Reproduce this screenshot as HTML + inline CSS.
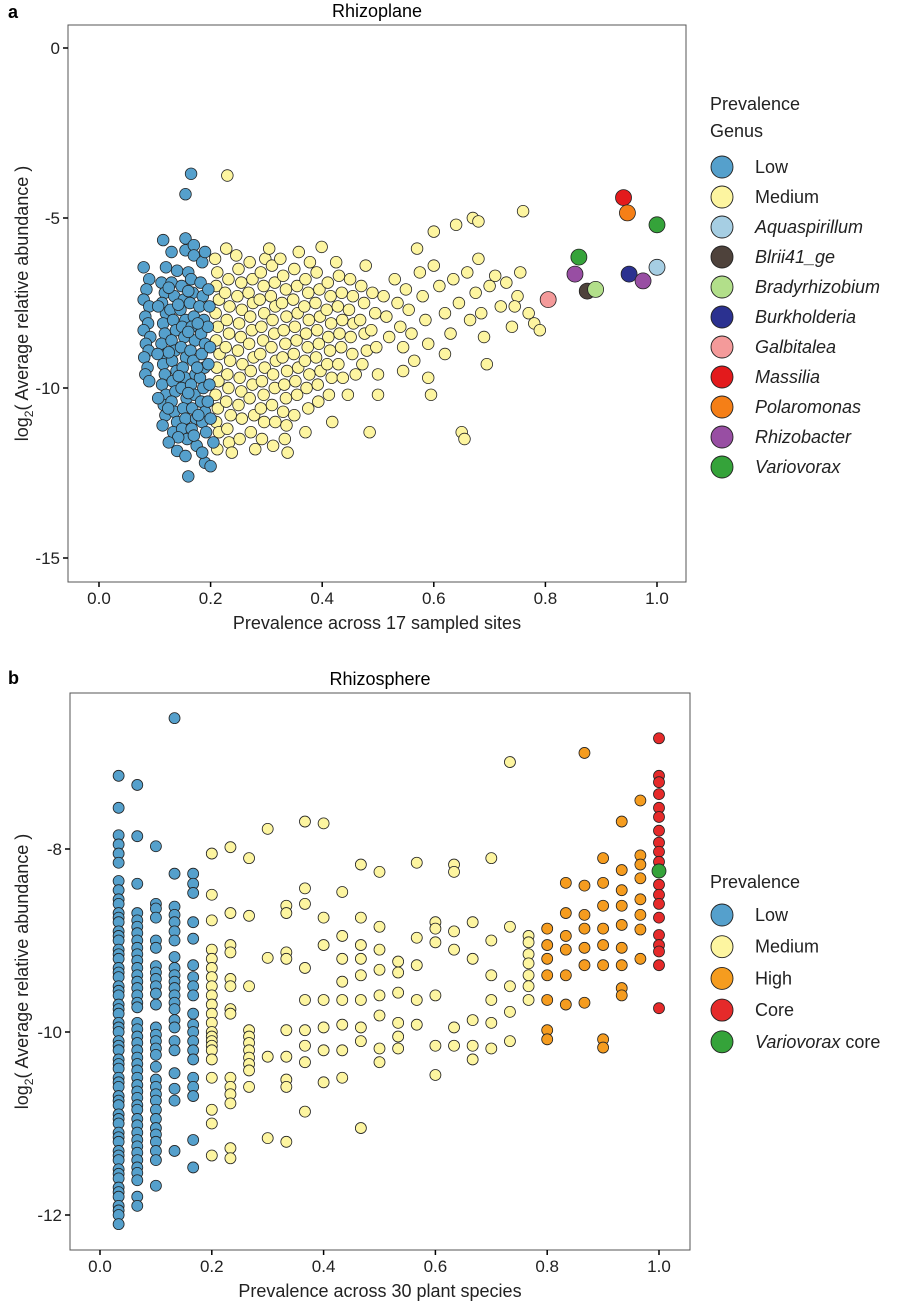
<!DOCTYPE html>
<html><head><meta charset="utf-8">
<style>
body{margin:0;background:#fff;}
svg{display:block;font-family:"Liberation Sans",Arial,sans-serif;}
</style></head>
<body>
<svg id="fig" width="905" height="1310" viewBox="0 0 905 1310"></svg>
<script>
// ---------- Panel a data (Rhizoplane) ----------
const lowA = [[0.165,-3.7],[0.155,-4.3],[0.115,-5.65],[0.155,-5.6],[0.13,-6.0],[0.155,-5.95],[0.17,-5.8],[0.17,-6.1],[0.08,-6.45],[0.12,-6.45],[0.09,-6.8],[0.14,-6.55],[0.16,-6.6],[0.185,-6.3],[0.19,-6.0],
[0.085,-7.1],[0.08,-7.4],[0.09,-7.6],[0.083,-7.9],[0.088,-8.1],[0.08,-8.3],[0.092,-8.5],[0.084,-8.7],[0.089,-8.9],[0.081,-9.1],[0.087,-9.4],[0.083,-9.6],[0.09,-9.8],
[0.112,-6.9],[0.118,-7.2],[0.113,-7.5],[0.12,-7.8],[0.115,-8.1],[0.118,-8.4],[0.112,-8.7],[0.12,-9.0],[0.115,-9.3],[0.118,-9.6],[0.113,-9.9],[0.12,-10.2],[0.116,-10.5],[0.119,-10.8],[0.114,-11.1],
[0.13,-6.9],[0.135,-7.3],[0.128,-7.7],[0.133,-8.0],[0.138,-8.3],[0.13,-8.6],[0.136,-8.9],[0.131,-9.2],[0.139,-9.5],[0.132,-9.8],[0.137,-10.1],[0.13,-10.4],[0.135,-10.7],[0.14,-11.0],[0.133,-11.3],
[0.148,-7.0],[0.152,-7.4],[0.146,-7.7],[0.155,-8.0],[0.149,-8.2],[0.153,-8.5],[0.147,-8.8],[0.156,-9.1],[0.15,-9.4],[0.154,-9.7],[0.148,-10.0],[0.157,-10.3],[0.151,-10.6],[0.155,-10.9],[0.149,-11.2],[0.158,-11.5],
[0.165,-6.8],[0.168,-7.2],[0.163,-7.5],[0.17,-7.9],[0.166,-8.2],[0.172,-8.6],[0.164,-8.9],[0.169,-9.2],[0.173,-9.6],[0.165,-9.9],[0.171,-10.2],[0.167,-10.6],[0.174,-10.9],[0.166,-11.2],
[0.182,-6.9],[0.186,-7.3],[0.18,-7.6],[0.188,-8.0],[0.183,-8.4],[0.19,-8.7],[0.184,-9.0],[0.189,-9.4],[0.181,-9.7],[0.187,-10.0],[0.183,-10.4],[0.19,-10.7],[0.185,-11.0],[0.192,-11.3],
[0.196,-7.1],[0.198,-7.6],[0.195,-8.2],[0.199,-8.8],[0.196,-9.3],[0.198,-9.9],[0.195,-10.4],[0.2,-10.9],
[0.125,-7.05],[0.142,-7.55],[0.16,-8.35],[0.125,-8.95],[0.143,-9.65],[0.16,-10.15],[0.124,-10.6],[0.142,-11.45],[0.177,-8.1],[0.176,-9.4],[0.178,-10.8],[0.16,-7.15],[0.106,-7.6],[0.105,-9.0],[0.106,-10.3],
[0.125,-11.6],[0.14,-11.85],[0.155,-12.0],[0.16,-12.6],[0.175,-11.7],[0.19,-12.2],[0.2,-12.3],[0.185,-11.9],[0.17,-11.4],[0.205,-11.6]];

const medA = [[0.208,-6.2],[0.212,-6.6],[0.21,-7.0],[0.215,-7.4],[0.209,-7.8],[0.213,-8.2],[0.21,-8.6],[0.216,-9.0],[0.211,-9.4],[0.214,-9.8],[0.209,-10.2],[0.213,-10.6],[0.21,-11.0],[0.215,-11.3],[0.212,-11.8],
[0.228,-5.9],[0.23,-3.75],[0.232,-6.8],[0.226,-7.2],[0.234,-7.6],[0.229,-8.0],[0.233,-8.4],[0.227,-8.8],[0.235,-9.2],[0.23,-9.6],[0.232,-10.0],[0.228,-10.4],[0.236,-10.8],[0.23,-11.2],[0.233,-11.6],[0.238,-11.9],
[0.25,-6.5],[0.255,-6.9],[0.248,-7.3],[0.256,-7.7],[0.251,-8.1],[0.254,-8.5],[0.249,-8.9],[0.257,-9.3],[0.252,-9.7],[0.255,-10.1],[0.25,-10.5],[0.256,-10.9],[0.252,-11.5],[0.246,-6.1],
[0.27,-6.3],[0.275,-6.8],[0.268,-7.2],[0.276,-7.5],[0.271,-7.9],[0.274,-8.3],[0.269,-8.7],[0.277,-9.1],[0.272,-9.5],[0.275,-9.9],[0.27,-10.3],[0.278,-10.8],[0.272,-11.3],[0.28,-11.8],
[0.29,-6.6],[0.295,-7.0],[0.288,-7.4],[0.296,-7.8],[0.291,-8.2],[0.294,-8.6],[0.289,-9.0],[0.297,-9.4],[0.292,-9.8],[0.295,-10.2],[0.29,-10.6],[0.296,-11.0],[0.292,-11.5],[0.298,-6.2],
[0.31,-6.4],[0.315,-6.9],[0.308,-7.3],[0.316,-7.6],[0.311,-8.0],[0.314,-8.4],[0.309,-8.8],[0.317,-9.2],[0.312,-9.6],[0.315,-10.0],[0.31,-10.5],[0.316,-11.0],[0.312,-11.7],[0.305,-5.9],
[0.33,-6.7],[0.335,-7.1],[0.328,-7.5],[0.336,-7.9],[0.331,-8.3],[0.334,-8.7],[0.329,-9.1],[0.337,-9.5],[0.332,-9.9],[0.335,-10.3],[0.33,-10.7],[0.336,-11.1],[0.333,-11.5],[0.338,-11.9],[0.325,-6.2],
[0.35,-6.5],[0.355,-7.0],[0.348,-7.4],[0.356,-7.8],[0.351,-8.2],[0.354,-8.6],[0.349,-9.0],[0.357,-9.4],[0.352,-9.8],[0.355,-10.2],[0.35,-10.8],[0.358,-6.0],
[0.37,-6.8],[0.375,-7.2],[0.368,-7.6],[0.376,-8.0],[0.371,-8.4],[0.374,-8.8],[0.369,-9.2],[0.377,-9.6],[0.372,-10.0],[0.375,-10.6],[0.378,-6.3],[0.37,-11.3],
[0.39,-6.6],[0.395,-7.1],[0.388,-7.5],[0.396,-7.9],[0.391,-8.3],[0.394,-8.7],[0.389,-9.1],[0.397,-9.5],[0.392,-9.9],[0.393,-10.4],[0.399,-5.85],
[0.41,-6.9],[0.415,-7.3],[0.408,-7.7],[0.416,-8.1],[0.411,-8.5],[0.414,-8.9],[0.409,-9.3],[0.417,-9.7],[0.412,-10.2],[0.418,-11.0],
[0.43,-6.7],[0.435,-7.2],[0.428,-7.6],[0.436,-8.0],[0.431,-8.4],[0.434,-8.8],[0.429,-9.3],[0.437,-9.7],[0.425,-6.3],
[0.45,-6.8],[0.455,-7.3],[0.448,-7.7],[0.456,-8.1],[0.451,-8.5],[0.454,-9.0],[0.46,-9.6],[0.446,-10.2],
[0.47,-7.0],[0.475,-7.5],[0.468,-8.0],[0.476,-8.4],[0.48,-8.9],[0.472,-9.3],[0.49,-7.2],[0.495,-7.8],[0.488,-8.3],[0.497,-8.8],[0.5,-9.6],[0.5,-10.2],[0.485,-11.3],[0.478,-6.4],
[0.51,-7.3],[0.515,-7.9],[0.52,-8.5],[0.53,-6.8],[0.535,-7.5],[0.54,-8.2],[0.545,-8.8],[0.55,-7.1],[0.555,-7.7],[0.56,-8.4],[0.565,-9.2],[0.57,-5.9],[0.575,-6.6],[0.58,-7.3],[0.585,-8.0],[0.59,-9.7],[0.595,-10.2],[0.6,-6.4],[0.6,-5.4],[0.59,-8.7],[0.545,-9.5],
[0.61,-7.0],[0.62,-7.8],[0.63,-8.4],[0.635,-6.8],[0.64,-5.2],[0.645,-7.5],[0.65,-11.3],[0.655,-11.5],[0.66,-6.6],[0.665,-8.0],[0.67,-5.0],[0.675,-7.2],[0.68,-6.2],[0.685,-7.8],[0.69,-8.5],[0.695,-9.3],[0.7,-7.0],[0.68,-5.1],[0.62,-9.0],
[0.71,-6.7],[0.72,-7.6],[0.73,-6.9],[0.74,-8.2],[0.75,-7.3],[0.755,-6.6],[0.76,-4.8],[0.77,-7.8],[0.78,-8.1],[0.79,-8.3],[0.745,-7.6]];

const genusNames = ["Massilia","Polaromonas","Variovorax","Variovorax","Aquaspirillum","Burkholderia","Rhizobacter","Rhizobacter","Blrii41_ge","Bradyrhizobium","Galbitalea"];
const genusX = [0.94,0.947,1.0,0.86,1.0,0.95,0.853,0.975,0.875,0.89,0.805];
const genusY = [-4.4,-4.85,-5.2,-6.15,-6.45,-6.65,-6.65,-6.85,-7.15,-7.1,-7.4];
const xTicksA = [0,0.2,0.4,0.6,0.8,1.0];
const yTicksA = [0,-5,-10,-15];

// ---------- Panel b data (Rhizosphere) ----------
const colIndex = [1,2,3,4,5,6,7,8,9,10,11,12,13,14,15,16,17,18,19,20,21,22,23,24,25,26,27,28,29,30];
const colValues = [
[-7.2,-7.55,-7.85,-7.95,-8.05,-8.15,-8.35,-8.45,-8.55,-8.6,-8.7,-8.75,-8.8,-8.9,-8.95,-9.0,-9.1,-9.15,-9.2,-9.3,-9.35,-9.4,-9.5,-9.55,-9.6,-9.7,-9.75,-9.8,-9.9,-9.95,-10.0,-10.1,-10.15,-10.2,-10.3,-10.35,-10.4,-10.5,-10.55,-10.6,-10.7,-10.75,-10.8,-10.9,-10.95,-11.0,-11.1,-11.15,-11.2,-11.3,-11.35,-11.4,-11.5,-11.55,-11.6,-11.7,-11.75,-11.8,-11.9,-11.95,-12.0,-12.1],
[-7.3,-7.86,-8.38,-8.7,-8.78,-8.85,-8.92,-9.0,-9.08,-9.15,-9.22,-9.3,-9.38,-9.45,-9.52,-9.6,-9.68,-9.73,-9.9,-9.97,-10.05,-10.12,-10.2,-10.28,-10.35,-10.42,-10.5,-10.58,-10.65,-10.72,-10.8,-10.85,-10.95,-11.02,-11.1,-11.18,-11.25,-11.32,-11.4,-11.48,-11.54,-11.62,-11.8,-11.9],
[-7.97,-8.6,-8.65,-8.75,-9.0,-9.08,-9.28,-9.35,-9.42,-9.5,-9.58,-9.7,-9.95,-10.03,-10.1,-10.18,-10.25,-10.38,-10.52,-10.6,-10.68,-10.75,-10.85,-10.95,-11.05,-11.12,-11.2,-11.3,-11.4,-11.68],
[-6.57,-8.27,-8.63,-8.72,-8.8,-8.9,-9.0,-9.18,-9.3,-9.38,-9.45,-9.52,-9.6,-9.68,-9.75,-9.87,-9.95,-10.1,-10.2,-10.45,-10.62,-10.75,-11.3],
[-8.27,-8.38,-8.48,-8.8,-8.98,-9.27,-9.4,-9.5,-9.6,-9.8,-9.92,-10.0,-10.1,-10.2,-10.3,-10.5,-10.6,-10.7,-11.18,-11.48],
[-8.05,-8.5,-8.78,-9.1,-9.2,-9.3,-9.4,-9.5,-9.6,-9.7,-9.8,-9.9,-10.0,-10.05,-10.1,-10.15,-10.2,-10.3,-10.5,-10.85,-11.35,-11.0],
[-7.98,-8.7,-9.05,-9.13,-9.42,-9.5,-9.75,-9.8,-10.5,-10.6,-10.68,-10.78,-11.27,-11.38],
[-8.1,-8.73,-9.5,-9.98,-10.05,-10.12,-10.2,-10.28,-10.35,-10.42,-10.6],
[-7.78,-9.19,-10.27,-11.16],
[-8.62,-8.7,-9.13,-9.2,-9.98,-10.27,-10.52,-10.6,-11.2],
[-7.7,-8.43,-8.6,-9.3,-9.65,-9.98,-10.15,-10.33,-10.87],
[-7.72,-8.75,-9.05,-9.65,-9.95,-10.2,-10.55],
[-8.47,-8.95,-9.2,-9.45,-9.65,-9.92,-10.2,-10.5],
[-8.17,-8.75,-9.05,-9.2,-9.38,-9.65,-9.95,-10.1,-11.05],
[-8.25,-8.85,-9.1,-9.32,-9.6,-9.82,-10.18,-10.33],
[-9.23,-9.35,-9.57,-9.9,-10.05,-10.18],
[-8.15,-8.97,-9.27,-9.65,-9.92],
[-8.8,-8.87,-9.02,-9.6,-10.15,-10.47],
[-8.17,-8.25,-8.9,-9.1,-9.95,-10.15],
[-8.8,-9.2,-9.87,-10.15,-10.3],
[-8.1,-9.0,-9.38,-9.65,-9.9,-10.18],
[-7.05,-8.85,-9.5,-9.78,-10.1],
[-8.95,-9.02,-9.15,-9.25,-9.38,-9.5,-9.65],
[-8.87,-9.05,-9.2,-9.38,-9.65,-9.98,-10.08],
[-8.37,-8.7,-8.95,-9.1,-9.38,-9.7],
[-6.95,-8.4,-8.72,-8.87,-9.08,-9.27,-9.68],
[-8.1,-8.37,-8.62,-8.87,-9.05,-9.27,-10.08,-10.17],
[-7.7,-8.23,-8.45,-8.62,-8.83,-9.08,-9.27,-9.52,-9.6],
[-7.47,-8.07,-8.17,-8.32,-8.55,-8.72,-8.88,-9.2],
[-6.79,-7.2,-7.27,-7.4,-7.55,-7.65,-7.8,-7.93,-8.03,-8.14,-8.25,-8.39,-8.5,-8.6,-8.75,-8.94,-9.05,-9.12,-9.27,-9.74]];
const colClass = ["Low","Low","Low","Low","Low","Medium","Medium","Medium","Medium","Medium","Medium","Medium","Medium","Medium","Medium","Medium","Medium","Medium","Medium","Medium","Medium","Medium","Medium","High","High","High","High","High","High","Core"];
const varioCoreX = [1.0];
const varioCoreY = [-8.24];
const xTicksB = [0,0.2,0.4,0.6,0.8,1.0];
const yTicksB = [-8,-10,-12];

// ---------- drawing ----------
const NS = "http://www.w3.org/2000/svg";
const svg = document.getElementById("fig");
const COL = {Low:"#55a0cc",Medium:"#fdf5a0",High:"#f59c1f",Core:"#e52a2a",Variovorax:"#35a33a",
  Massilia:"#e31a1c",Polaromonas:"#f57f17",Aquaspirillum:"#a6cee3",Burkholderia:"#2b3190",Rhizobacter:"#984ea3","Blrii41_ge":"#4e423b",Bradyrhizobium:"#b2df8a",Galbitalea:"#f49a9a"};
function mk(tag, attrs, parent){const e=document.createElementNS(NS,tag);for(const k in attrs)e.setAttribute(k,attrs[k]);(parent||svg).appendChild(e);return e;}

// axis functions
const xa = v => 99 + v*558;
const ya = v => 48 - v*34;
const xb = v => 100 + v*559;
const yb = v => 849 + (-8 - v)*91.5;

function panel(name, box, xt, yt, xf, yf, title, xlabel, letter, letterY){
  const g = mk("g",{});
  
  
  const t = mk("text",{x:8,y:letterY,"font-size":18,"font-weight":"bold"},g); t.textContent=letter;
  
  
  const tt = mk("text",{x:(box[0]+box[2])/2,y:box[1]-8,"font-size":18,"text-anchor":"middle"},g); tt.textContent=title;
  
  
  const r = mk("rect",{x:box[0],y:box[1],width:box[2]-box[0],height:box[3]-box[1],fill:"none",stroke:"#555","stroke-width":1},g);
  
  
  xt.forEach(v=>{
    const x=xf(v);
    const l=mk("line",{x1:x,x2:x,y1:box[3],y2:box[3]+5,stroke:"#000","stroke-width":1.5},g);
    
    
    const s=mk("text",{x:x,y:box[3]+22,"font-size":17,"text-anchor":"middle",fill:"#222"},g); s.textContent=v.toFixed(1);
    
    
  });
  yt.forEach(v=>{
    const y=yf(v);
    const l=mk("line",{x1:box[0]-5,x2:box[0],y1:y,y2:y,stroke:"#000","stroke-width":1.5},g);
    
    
    const s=mk("text",{x:box[0]-8,y:y+6,"font-size":17,"text-anchor":"end",fill:"#222"},g); s.textContent=String(v);
    
    
  });
  const xl=mk("text",{x:(box[0]+box[2])/2,y:box[3]+47,"font-size":18,"text-anchor":"middle",fill:"#222"},g); xl.textContent=xlabel;
  
  
  const cy=(box[1]+box[3])/2;
  const yl=mk("text",{x:0,y:0,"font-size":18,"text-anchor":"middle",fill:"#222",transform:`translate(28,${cy}) rotate(-90)`},g);
  yl.innerHTML='log<tspan font-size="12" dy="5">2</tspan><tspan dy="-5">( Average relative abundance )</tspan>';
  
  
  return g;
}
function dot(g,x,y,r,fill,name){
  const c=mk("circle",{cx:x,cy:y,r:r,fill:fill,stroke:"#222","stroke-width":0.8},g);
  
  
}

// Panel a
const ga = panel("rhizoplane-panel",[68,25,686,582],xTicksA,yTicksA,xa,ya,"Rhizoplane","Prevalence across 17 sampled sites","a",18);
medA.forEach(p=>dot(ga,xa(p[0]),ya(p[1]),5.8,COL.Medium,"point-medium"));
lowA.forEach(p=>dot(ga,xa(p[0]),ya(p[1]),5.8,COL.Low,"point-low"));
genusX.forEach((x,i)=>dot(ga,xa(x),ya(genusY[i]),8,COL[genusNames[i]],"point-"+genusNames[i].toLowerCase()));

// Panel b
const gb = panel("rhizosphere-panel",[70,693,690,1250],xTicksB,yTicksB,xb,yb,"Rhizosphere","Prevalence across 30 plant species","b",684);
colIndex.forEach((k,i)=>{
  colValues[i].forEach(v=>dot(gb,xb(k/30),yb(v),5.5,COL[colClass[i]],"point-"+colClass[i].toLowerCase()));
});
varioCoreX.forEach((x,i)=>dot(gb,xb(x),yb(varioCoreY[i]),7,COL.Variovorax,"point-variovorax-core"));

// Legends
function legend(name,x,titles,titleY,items,startY,step){
  const g=mk("g",{});
  
  
  titles.forEach((t,i)=>{const e=mk("text",{x:x,y:titleY+i*27,"font-size":18,fill:"#222"},g);e.textContent=t;
    
    });
  items.forEach((it,i)=>{
    const y=startY+i*step;
    const c=mk("circle",{cx:x+12,cy:y,r:11,fill:it[1],stroke:"#222","stroke-width":0.9},g);
    
    
    const e=mk("text",{x:x+45,y:y+6,"font-size":18,fill:"#222"},g);
    e.innerHTML=it[0];
    
    
  });
}
legend("legend-rhizoplane",710,["Prevalence","Genus"],110,[
 ["Low",COL.Low],["Medium",COL.Medium],['<tspan font-style="italic">Aquaspirillum</tspan>',COL.Aquaspirillum],
 ['<tspan font-style="italic">Blrii41_ge</tspan>',COL["Blrii41_ge"]],['<tspan font-style="italic">Bradyrhizobium</tspan>',COL.Bradyrhizobium],
 ['<tspan font-style="italic">Burkholderia</tspan>',COL.Burkholderia],['<tspan font-style="italic">Galbitalea</tspan>',COL.Galbitalea],
 ['<tspan font-style="italic">Massilia</tspan>',COL.Massilia],['<tspan font-style="italic">Polaromonas</tspan>',COL.Polaromonas],
 ['<tspan font-style="italic">Rhizobacter</tspan>',COL.Rhizobacter],['<tspan font-style="italic">Variovorax</tspan>',COL.Variovorax]],167,30);
legend("legend-rhizosphere",710,["Prevalence"],888,[
 ["Low",COL.Low],["Medium",COL.Medium],["High",COL.High],["Core",COL.Core],
 ['<tspan font-style="italic">Variovorax</tspan> core',COL.Variovorax]],915,31.7);
</script>
</body></html>
